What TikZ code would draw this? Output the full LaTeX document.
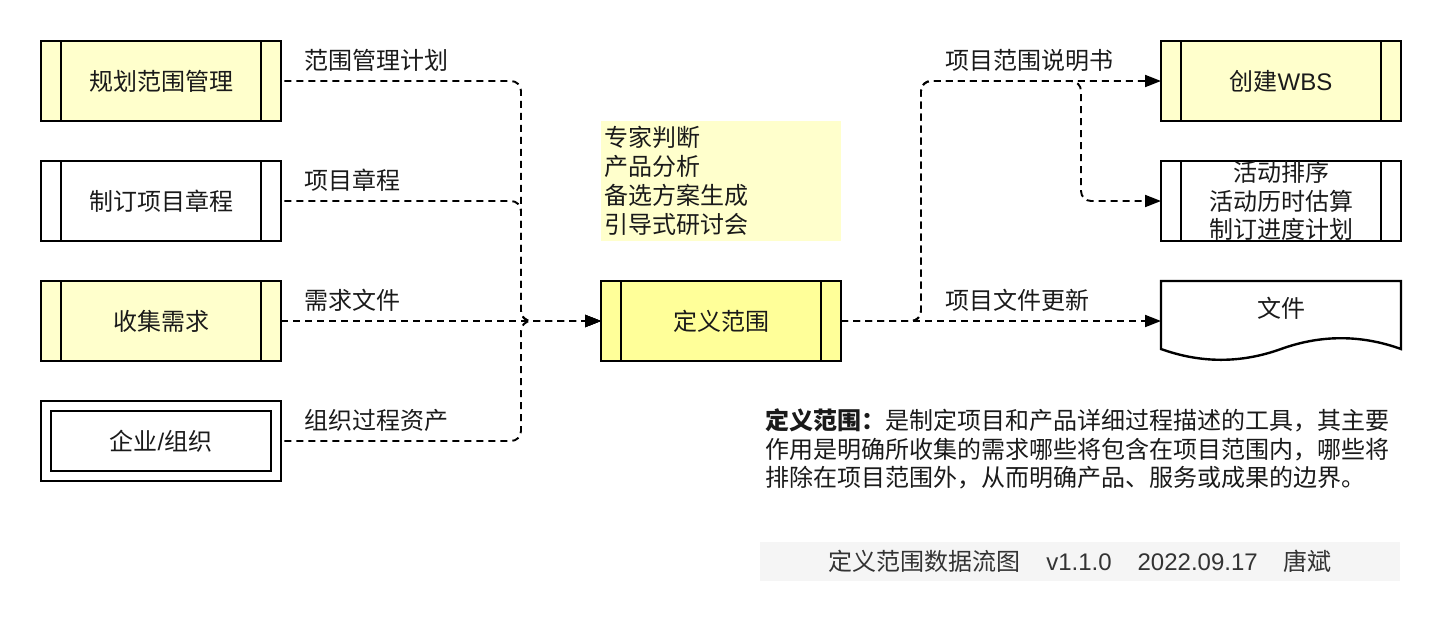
\documentclass[tikz,border=0pt]{standalone}
\usepackage{fontspec}
\setmainfont{Liberation Sans}
\newfontfamily\cjk{Noto Sans CJK SC}
\usetikzlibrary{arrows.meta}

\definecolor{lightyel}{HTML}{FFFFCC}
\definecolor{yel}{HTML}{FFFF99}
\definecolor{bandgray}{HTML}{F5F5F5}
\definecolor{ink}{HTML}{1A1A1A}
\definecolor{footink}{HTML}{333333}

\newcommand\myfs{\fontsize{24}{28.8}\selectfont\cjk}
\newcommand\lat{\rmfamily}

\tikzset{
  base/.style={draw=black, line width=2.4pt, minimum width=240pt, minimum height=80pt,
    inner sep=0pt, outer sep=0pt, font=\myfs, text=ink, align=center},
  procbox/.style={base, path picture={
      \draw[line width=2.4pt] ([xshift=20pt]path picture bounding box.north west) -- ([xshift=20pt]path picture bounding box.south west);
      \draw[line width=2.4pt] ([xshift=-20pt]path picture bounding box.north east) -- ([xshift=-20pt]path picture bounding box.south east);}},
  entbox/.style={base, fill=white, path picture={
      \draw[line width=2.4pt] ([shift={(10pt,-10pt)}]path picture bounding box.north west) rectangle ([shift={(-10pt,10pt)}]path picture bounding box.south east);}},
  flow/.style={draw=black, line width=1.9pt, dash pattern=on 7pt off 5pt, rounded corners=10pt,
    -{Triangle[length=16pt,width=12pt]}},
  lbl/.style={anchor=west, font=\myfs, text=ink, inner sep=0pt},
  txt/.style={font=\myfs, text=ink, inner sep=0pt, align=center},
}

\begin{document}
\begin{tikzpicture}[x=1pt, y=-1pt]
\useasboundingbox (0,0) rectangle (1442,622);

% left column
\node[procbox, fill=lightyel] (pm) at (161,81) {规划范围管理};
\node[procbox, fill=white] (pc) at (161,201) {制订项目章程};
\node[procbox, fill=lightyel] (cr) at (161,321) {收集需求};
\node[entbox] (ent) at (161,441) {企业{\lat /}组织};

% centre
\node[procbox, fill=yel] (def) at (721,321) {定义范围};
\node[font=\myfs, text=ink, fill=lightyel, minimum width=240pt, minimum height=120pt,
      text width=234pt, inner xsep=3pt, inner ysep=0pt, align=left] (tools) at (721,181)
      {专家判断\\产品分析\\备选方案生成\\引导式研讨会};

% right column
\node[procbox, fill=lightyel] (wbs) at (1281,81) {创建{\lat WBS}};
\node[procbox, fill=white] (act) at (1281,201) {};
\node[txt] (acttxt) at (1281,201) {活动排序\\活动历时估算\\制订进度计划};
\node[minimum width=240pt, minimum height=80pt, inner sep=0pt, outer sep=0pt] (doc) at (1281,321) {};
\draw[line width=2.4pt, fill=white] (doc.north west) -- (doc.north east) -- (1401,349)
  .. controls (1361,334.6) and (1321,334.6) .. (1281,349)
  .. controls (1241,363.4) and (1201,363.4) .. (1161,349) -- cycle;
\node[txt] (doctxt) at (1281,308) {文件};

% junctions
\coordinate (jl) at (521,321);
\coordinate (jr) at (921,81);
\coordinate (jb) at (1081,81);

% left connectors (dash phases keep the shared parts in step)
\draw[flow, dash phase=8.6pt] (pm.east) -| (jl) -- (def.west);
\draw[flow, dash phase=8.6pt] (pc.east) -| (jl) -- (def.west);
\draw[flow] (cr.east) -- (def.west);
\draw[flow, dash phase=8.6pt] (ent.east) -| (jl) -- (def.west);

\node[lbl] (l1) at (304,60) {范围管理计划};
\node[lbl] (l2) at (304,180) {项目章程};
\node[lbl] (l3) at (304,300) {需求文件};
\node[lbl] (l4) at (304,420) {组织过程资产};

% right connectors
\draw[flow] (def.east) -| (jr) -- (wbs.west);
\draw[flow] (def.east) -| (jr) -- (jb) |- (act.west);
\draw[flow] (def.east) -- (doc.west);

\node[lbl] (r1) at (945,60) {项目范围说明书};
\node[lbl] (r2) at (945,300) {项目文件更新};

% description
\node[anchor=west, font=\myfs, text=ink, inner sep=0pt, align=left] (desc) at (765,449)
  {{\bfseries 定义范围：}是制定项目和产品详细过程描述的工具，其主要\\
   作用是明确所收集的需求哪些将包含在项目范围内，哪些将\\
   排除在项目范围外，从而明确产品、服务或成果的边界。};

% footer
\node[fill=bandgray, minimum width=640pt, minimum height=39pt, inner sep=0pt,
      font=\myfs, text=footink] (foot) at (1080,561.5)
  {定义范围数据流图\hspace{26pt}{\lat v1.1.0}\hspace{26pt}{\lat 2022.09.17}\hspace{26pt}唐斌};
\end{tikzpicture}
\end{document}
